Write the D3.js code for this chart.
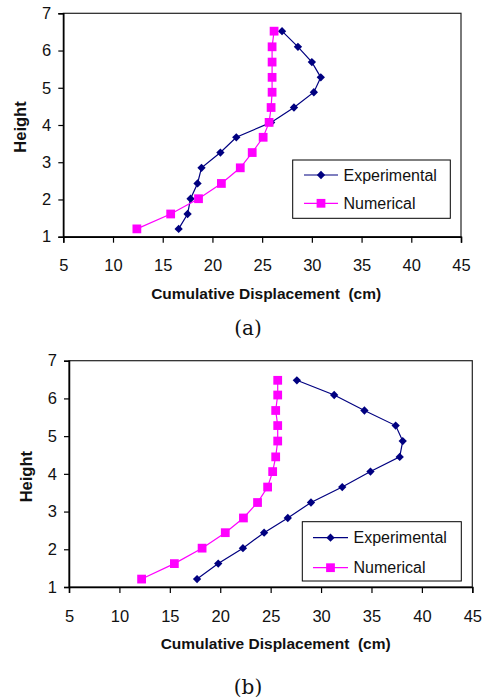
<!DOCTYPE html>
<html><head><meta charset="utf-8">
<script src="https://cdn.jsdelivr.net/npm/d3@7"></script>
<style>html,body{margin:0;padding:0;background:#fff}svg{display:block}</style>
</head><body>
<script>
// ---- data ----
const xTicks = [5, 10, 15, 20, 25, 30, 35, 40, 45];
const yTicks = [1, 2, 3, 4, 5, 6, 7];
const seriesNames = ["Experimental", "Numerical"];

const heightsA = [1.21, 1.61, 2.02, 2.43, 2.85, 3.26, 3.67, 4.07, 4.47, 4.88, 5.28, 5.69, 6.10, 6.52];
const expA = [16.6, 17.5, 17.8, 18.5, 18.9, 20.8, 22.4, 25.9, 28.2, 30.2, 30.9, 30.0, 28.6, 27.0];
const numA = [12.4, 15.8, 18.6, 20.9, 22.8, 24.0, 25.1, 25.7, 25.9, 26.0, 26.0, 26.0, 26.0, 26.2];

const heightsB = [1.21, 1.62, 2.03, 2.44, 2.83, 3.24, 3.65, 4.06, 4.45, 4.87, 5.28, 5.68, 6.09, 6.48];
const expB = [17.7, 19.8, 22.25, 24.35, 26.7, 29.0, 32.1, 34.9, 37.8, 38.1, 37.4, 34.3, 31.3, 27.6];
const numB = [12.2, 15.45, 18.2, 20.5, 22.3, 23.7, 24.7, 25.2, 25.5, 25.7, 25.7, 25.5, 25.7, 25.7];

const colors = ["#000080", "#FF00FF"];
const SANS = "Liberation Sans, Arial, sans-serif";

const svg = d3.select("body").append("svg").attr("width", 488).attr("height", 699);

function drawChart(o) {
  const g = svg.append("g");
  const x = d3.scaleLinear().domain([5, 45]).range([o.left, o.right]);
  const y = d3.scaleLinear().domain([1, 7]).range([o.bottom, o.top]);

  // frame
  g.append("rect").attr("x", o.left).attr("y", o.top)
    .attr("width", o.right - o.left).attr("height", o.bottom - o.top)
    .attr("fill", "none").attr("stroke", "#222").attr("stroke-width", 1.2);

  const yAxis = g.append("g").attr("transform", `translate(${o.left},0)`)
    .call(d3.axisLeft(y).tickValues(yTicks).tickSize(5).tickPadding(7).tickFormat(d3.format("d")));
  const xAxis = g.append("g").attr("transform", `translate(0,${o.bottom})`)
    .call(d3.axisBottom(x).tickValues(xTicks).tickSize(6).tickPadding(17).tickFormat(d3.format("d")));
  [yAxis, xAxis].forEach(a => {
    a.select(".domain").attr("stroke", "#000").attr("stroke-width", 1.5);
    a.selectAll(".tick line").attr("stroke", "#000").attr("stroke-width", 1.2);
    a.selectAll("text").attr("font-family", SANS)
      .attr("font-size", 16.5).attr("fill", "#111");
  });

  const series = [o.exp, o.num];
  series.forEach((vals, si) => {
    const pts = vals.map((v, i) => [v, o.heights[i]]);
    g.append("path").datum(pts)
      .attr("fill", "none").attr("stroke", colors[si]).attr("stroke-width", 1.2)
      .attr("d", d3.line().x(d => x(d[0])).y(d => y(d[1])));
    const sym = si === 0 ? d3.symbolDiamond2 : d3.symbolSquare2;
    const size = si === 0 ? 44 : 98;
    g.selectAll(null).data(pts).enter().append("path")
      .attr("transform", d => `translate(${x(d[0])},${y(d[1])})`)
      .attr("d", d3.symbol().type(sym).size(size))
      .attr("fill", colors[si]).attr("stroke", "none");
  });

  // legend
  const L = o.legend;
  g.append("rect").attr("x", L.x).attr("y", L.y).attr("width", L.w).attr("height", L.h)
    .attr("fill", "#fff").attr("stroke", "#000").attr("stroke-width", 1);
  seriesNames.forEach((name, si) => {
    const cy = L.y + L.rows[si];
    g.append("line").attr("x1", L.lx1).attr("x2", L.lx2).attr("y1", cy).attr("y2", cy)
      .attr("stroke", colors[si]).attr("stroke-width", 1.2);
    const sym = si === 0 ? d3.symbolDiamond2 : d3.symbolSquare2;
    g.append("path").attr("transform", `translate(${(L.lx1 + L.lx2) / 2},${cy})`)
      .attr("d", d3.symbol().type(sym).size(si === 0 ? 44 : 98)).attr("fill", colors[si]);
    g.append("text").attr("x", L.tx).attr("y", cy).attr("dy", "0.36em")
      .attr("font-family", SANS).attr("font-size", 16)
      .attr("fill", "#111").text(name);
  });

  // axis titles
  g.append("text").attr("x", (o.left + o.right) / 2 + o.titleDx).attr("y", o.xTitleY)
    .attr("text-anchor", "middle").attr("font-family", SANS)
    .attr("font-weight", "bold").attr("font-size", 15.5).attr("fill", "#111")
    .style("white-space", "pre").text("Cumulative Displacement  (cm)");
  g.append("text").attr("transform", `translate(${o.yTitleX},${o.yTitleY}) rotate(-90)`)
    .attr("text-anchor", "middle").attr("font-family", SANS)
    .attr("font-weight", "bold").attr("font-size", 16.5).attr("fill", "#111").text("Height");
  g.append("text").attr("x", 248).attr("y", o.capY).attr("dy", "0.35em")
    .attr("text-anchor", "middle").attr("font-family", "DejaVu Serif, serif")
    .attr("font-size", 20).attr("fill", "#111").text(o.caption);
}

drawChart({
  left: 63.3, right: 461, top: 13.3, bottom: 236.7,
  heights: heightsA, exp: expA, num: numA,
  legend: { x: 292.7, y: 160, w: 157.6, h: 58.3, rows: [15, 43.3], lx1: 304, lx2: 338, tx: 343.5 },
  xTitleY: 298.5, titleDx: 4, yTitleX: 26, yTitleY: 127, capY: 328, caption: "(a)"
});
drawChart({
  left: 69, right: 472.3, top: 360.7, bottom: 587,
  heights: heightsB, exp: expB, num: numB,
  legend: { x: 302.3, y: 521.7, w: 159, h: 59.3, rows: [16, 46], lx1: 313, lx2: 348, tx: 353.5 },
  xTitleY: 648.5, titleDx: 5, yTitleX: 32, yTitleY: 476.7, capY: 687, caption: "(b)"
});
</script>
</body></html>
